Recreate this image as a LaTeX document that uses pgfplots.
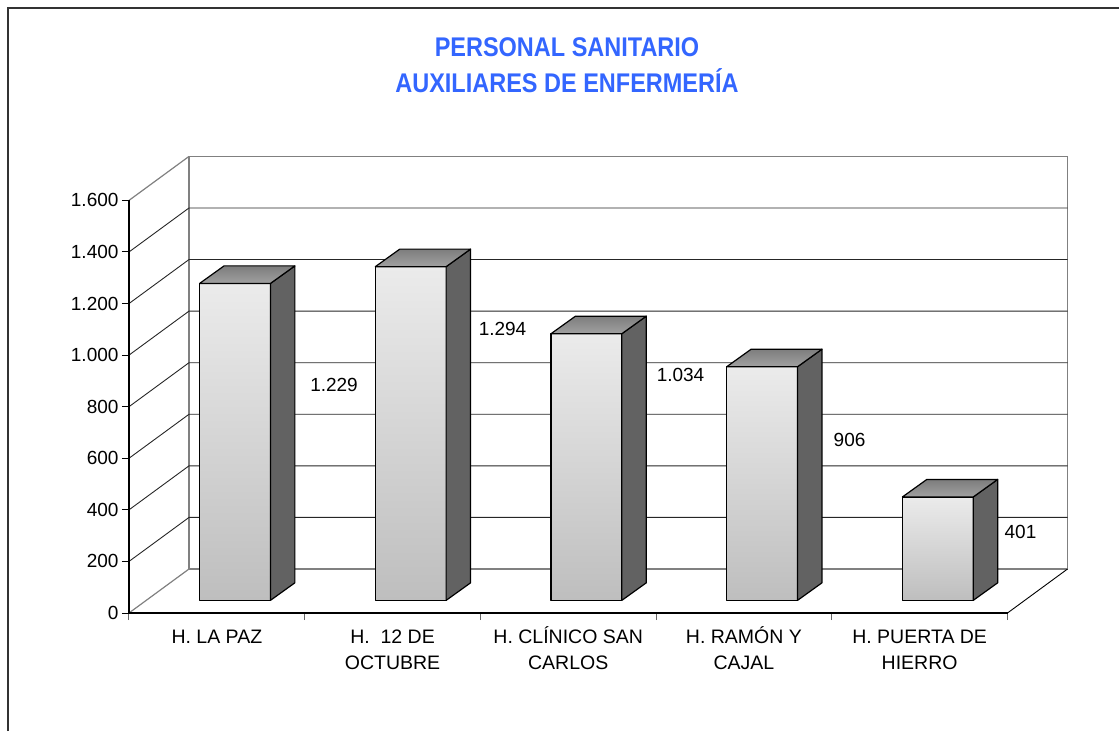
\documentclass[border=0pt]{standalone}
\usepackage{fontspec}
\setmainfont{Liberation Sans}
\newfontfamily\titlefont[FakeStretch=0.87]{Liberation Sans}
\usepackage{pgfplots}
\usepackage{pgfplotstable}
\pgfplotsset{compat=1.18}
\definecolor{titleblue}{RGB}{51,102,255}
\definecolor{frontlight}{RGB}{235,235,235}
\definecolor{frontdark}{RGB}{190,190,190}
\definecolor{sidegray}{RGB}{98,98,98}
\definecolor{topdark}{RGB}{125,125,125}
\definecolor{toplight}{RGB}{160,160,160}
\definecolor{wallgray}{RGB}{128,128,128}

\pgfplotstableread{
idx val
0 1229
1 1294
2 1034
3 906
4 401
}\bardata

\begin{document}
\begin{tikzpicture}
\path[use as bounding box] (-129pt,-118pt) rectangle (990pt,613pt);
\draw[line width=1.6pt, color=black!80] (-121pt,-118pt) -- (-121pt,605pt) -- (990pt,605pt);
\begin{axis}[
  at={(0,0)}, anchor=south west,
  scale only axis, width=938.5pt, height=456.6pt,
  xmin=0, xmax=5.3415, ymin=0, ymax=1770.6,
  axis x line=bottom, axis y line=left, axis line style={draw=none},
  ytick={0,200,400,600,800,1000,1200,1400,1600},
  xtick={0,1,2,3,4,5}, xticklabels={,,,,,},
  extra x ticks={0.5,1.5,2.5,3.5,4.5},
  extra x tick labels={{\vphantom{ÍÓ}H. LA PAZ},{\vphantom{ÍÓ}H.\ \ 12 DE\\OCTUBRE},{\vphantom{ÍÓ}H. CLÍNICO SAN\\CARLOS},{\vphantom{ÍÓ}H. RAMÓN Y\\CAJAL},{\vphantom{ÍÓ}H. PUERTA DE\\HIERRO}},
  extra x tick style={major tick length=0pt, tick label style={align=center, yshift=-10pt, font=\fontsize{19.5}{26}\selectfont}},
  tick align=outside, major tick length=7pt,
  tick style={black, line width=1pt},
  x tick style={black!60},
  tick label style={font=\fontsize{19}{26}\selectfont},
  /pgf/number format/assume math mode=true,
  /pgf/number format/1000 sep={.},
  clip=false,
]
\draw[wallgray, line width=1.2pt] (axis cs:0.3415,170.6) rectangle (axis cs:5.3415,1770.6);
\pgfplotsforeachungrouped \yy in {200,400,600,800,1000,1200,1400}{%
  \pgfmathsetmacro\yb{\yy+170.6}%
  \edef\cmd{\noexpand\draw[black!85, line width=0.9pt] (axis cs:0,\yy) -- (axis cs:0.3415,\yb) -- (axis cs:5.3415,\yb);}\cmd
}
\draw[wallgray, line width=1.2pt] (axis cs:0,0) -- (axis cs:0.3415,170.6);
\draw[wallgray, line width=1.2pt] (axis cs:0,1600) -- (axis cs:0.3415,1770.6);
\draw[black, line width=0.9pt] (axis cs:5,0) -- (axis cs:5.3415,170.6);
\draw[black, line width=1.2pt] (axis cs:0,1600) -- (axis cs:0,0) -- (axis cs:5,0);
\pgfplotsforeachungrouped \i in {0,1,2,3,4}{%
  \pgfplotstablegetelem{\i}{val}\of\bardata
  \let\barval\pgfplotsretval
  \pgfmathsetmacro\xa{\i+0.402}%
  \pgfmathsetmacro\xb{\i+0.805}%
  \pgfmathsetmacro\xc{\i+0.944}%
  \pgfmathsetmacro\xd{\i+0.541}%
  \pgfmathsetmacro\yt{\barval+49}%
  \pgfmathsetmacro\ytt{\barval+117}%
  \edef\cmd{%
    \noexpand\addplot[draw=black, line width=1.2pt, line join=round, top color=frontlight, bottom color=frontdark] coordinates {(\xa,49) (\xb,49) (\xb,\yt) (\xa,\yt)} -- cycle;
    \noexpand\addplot[draw=black, line width=1.2pt, line join=round, fill=sidegray] coordinates {(\xb,49) (\xc,117) (\xc,\ytt) (\xb,\yt)} -- cycle;
    \noexpand\addplot[draw=black, line width=1.2pt, line join=round, top color=topdark, bottom color=toplight] coordinates {(\xa,\yt) (\xb,\yt) (\xc,\ytt) (\xd,\ytt)} -- cycle;
  }\cmd
}
\node[font=\fontsize{19}{22}\selectfont] at (axis cs:1.167,884) {1.229};
\node[font=\fontsize{19}{22}\selectfont] at (axis cs:2.126,1101) {1.294};
\node[font=\fontsize{19}{22}\selectfont] at (axis cs:3.139,923) {1.034};
\node[font=\fontsize{19}{22}\selectfont] at (axis cs:4.101,671) {906};
\node[font=\fontsize{19}{22}\selectfont] at (axis cs:5.074,314) {401};
\end{axis}
\node[font=\titlefont\bfseries\fontsize{27}{30}\selectfont, text=titleblue, anchor=base] at (438pt,556.3pt) {PERSONAL SANITARIO};
\node[font=\titlefont\bfseries\fontsize{27}{30}\selectfont, text=titleblue, anchor=base] at (438pt,520pt) {AUXILIARES DE ENFERMERÍA};
\end{tikzpicture}
\end{document}
